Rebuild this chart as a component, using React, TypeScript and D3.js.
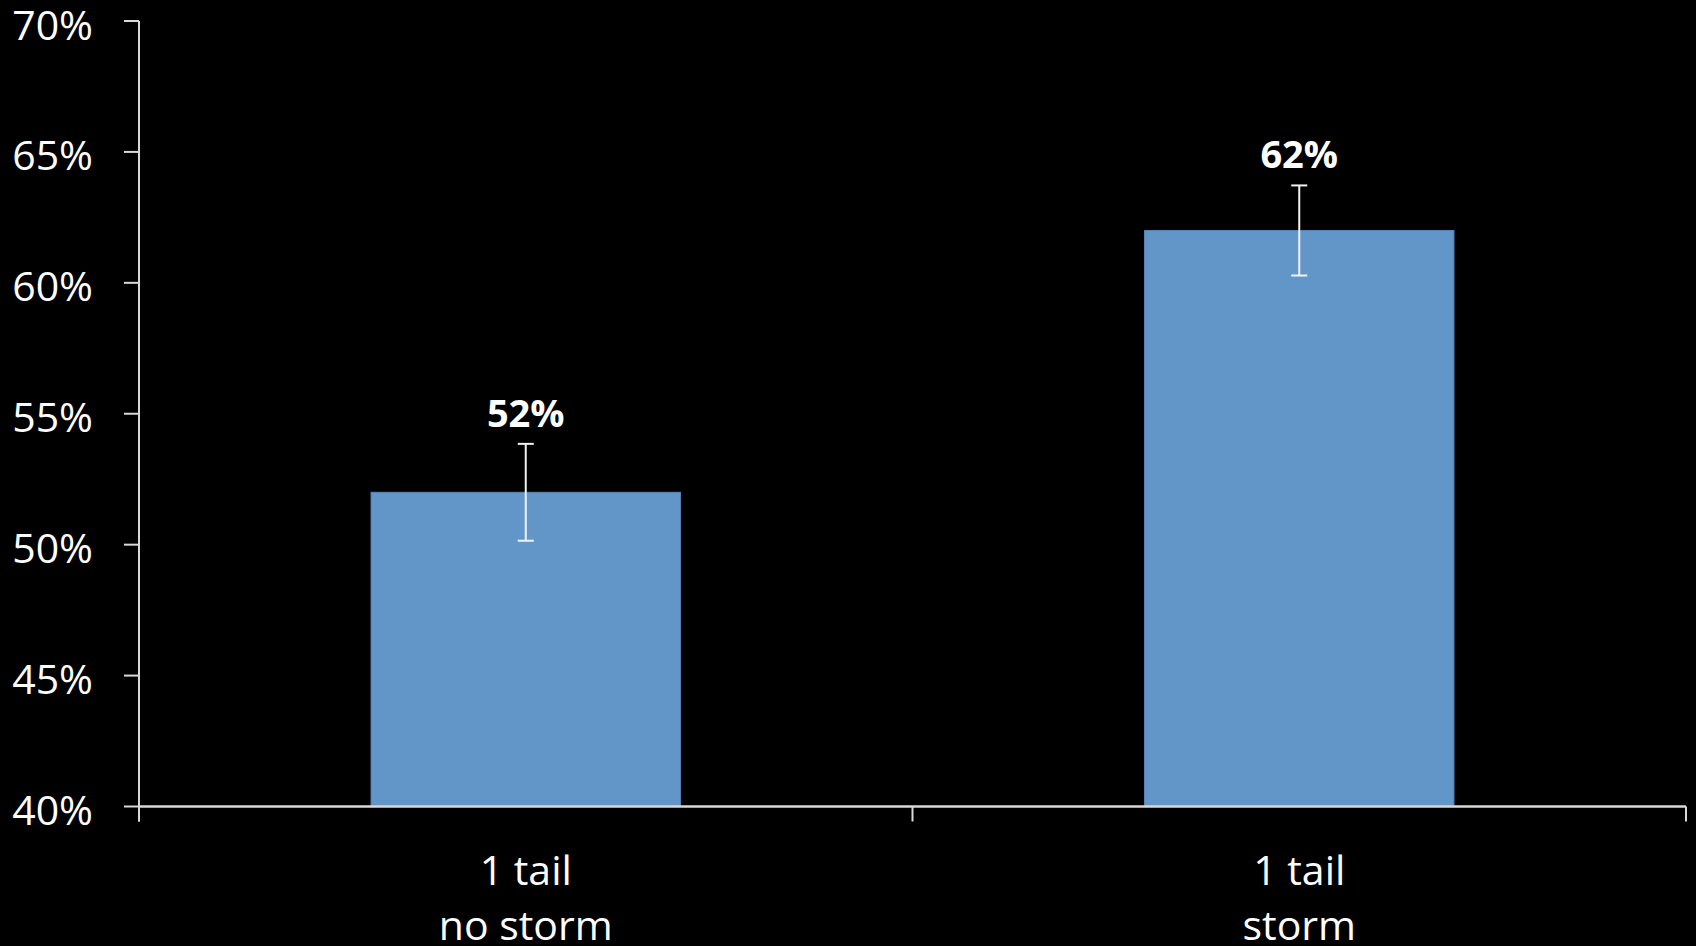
import React from "react";
import * as d3 from "d3";

const categories: string[][] = [["1 tail", "no storm"], ["1 tail", "storm"]];
const values: number[] = [52, 62];
const errors: number[] = [1.85, 1.72];
const valueLabels: string[] = ["52%", "62%"];
const yTicks: number[] = [40, 45, 50, 55, 60, 65, 70];

const W = 1696;
const H = 946;
const FONT = "'Open Sans', 'Noto Sans', sans-serif";
const AXIS = "#d9d9d9";
const BAR = "#6396c8";

export default function App() {
  const x0 = 139, x1 = 1686;
  const yTop = 21, yBot = 806.5;
  const x = d3.scaleBand<number>().domain(d3.range(values.length)).range([x0, x1]).paddingInner(0.6).paddingOuter(0.3);
  const band = d3.scaleBand<number>().domain(d3.range(values.length)).range([x0, x1]);
  const y = d3.scaleLinear().domain([40, 70]).range([yBot, yTop]);
  const capW = 8;

  return (
    <svg width={W} height={H} style={{ position: "absolute", left: 0, top: 0, background: "#000" }}>
      <rect x={0} y={0} width={W} height={H} fill="#000" />
      {values.map((v, i) => {
        const bx = x(i)!;
        const bw = x.bandwidth();
        const cx = bx + bw / 2;
        const hi = v + errors[i];
        const lo = v - errors[i];
        return (
          <g key={i}>
            <rect x={bx} y={y(v)} width={bw} height={y(40) - y(v)} fill={BAR} stroke="#5585b8" strokeWidth={1} />
            <line x1={cx} x2={cx} y1={y(hi)} y2={y(lo)} stroke="#f2f2f2" strokeWidth={2} />
            <line x1={cx - capW} x2={cx + capW} y1={y(hi)} y2={y(hi)} stroke="#f2f2f2" strokeWidth={2} />
            <line x1={cx - capW} x2={cx + capW} y1={y(lo)} y2={y(lo)} stroke="#f2f2f2" strokeWidth={2} />
            <text x={cx} y={y(hi) - 17} textAnchor="middle" fill="#fff" fontFamily={FONT} fontWeight="bold" fontSize={38}>
              {valueLabels[i]}
            </text>
          </g>
        );
      })}
      {/* y axis */}
      <line x1={x0} x2={x0} y1={yTop} y2={yBot + 15} stroke={AXIS} strokeWidth={2} />
      {yTicks.map((t) => (
        <g key={t}>
          <line x1={x0 - 15} x2={x0} y1={y(t)} y2={y(t)} stroke={AXIS} strokeWidth={2} />
          <text x={93} y={y(t) + 18.5} textAnchor="end" fill="#fff" fontFamily={FONT} fontSize={41}>
            {t}%
          </text>
        </g>
      ))}
      {/* x axis */}
      <line x1={x0} x2={x1} y1={yBot} y2={yBot} stroke={AXIS} strokeWidth={2.5} />
      {[0, 1, 2].map((k) => {
        const tx = x0 + k * band.bandwidth();
        return <line key={k} x1={tx} x2={tx} y1={yBot} y2={yBot + 15} stroke={AXIS} strokeWidth={2} />;
      })}
      {categories.map((lines, i) => {
        const cx = band(i)! + band.bandwidth() / 2;
        return (
          <text key={i} textAnchor="middle" fill="#fff" fontFamily={FONT} fontSize={41}>
            {lines.map((l, j) => (
              <tspan key={j} x={cx} y={885 + j * 55}>
                {l}
              </tspan>
            ))}
          </text>
        );
      })}
    </svg>
  );
}
